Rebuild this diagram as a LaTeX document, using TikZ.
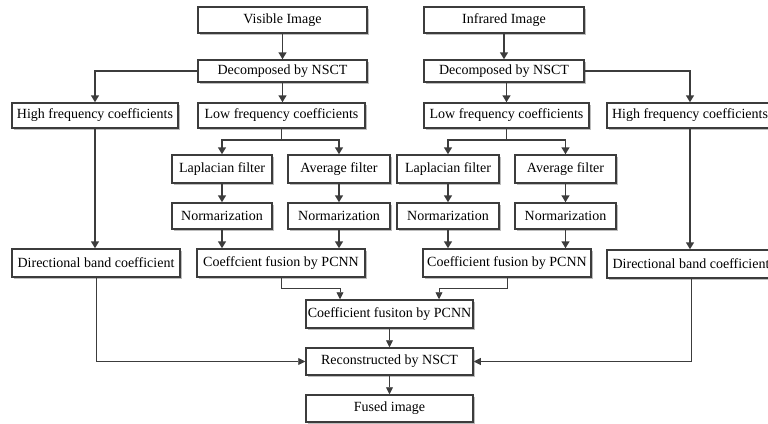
\documentclass[tikz,border=0pt]{standalone}
\usepackage{fontspec}
\setmainfont{Liberation Serif}
\usetikzlibrary{arrows.meta,shadows,calc}
\definecolor{ink}{HTML}{3C3C3C}
\definecolor{shade}{HTML}{BDBDBD}
\begin{document}
\begin{tikzpicture}[x=1pt,y=-1pt,
  box/.style={draw=ink, line width=1.5pt, fill=white, inner sep=0pt,
    font=\fontsize{14}{16}\selectfont,
    drop shadow={shadow xshift=2pt, shadow yshift=-2pt, fill=shade, opacity=1}},
  thick arr/.style={draw=ink, line width=1.5pt, -{Triangle[length=7pt,width=8pt]}},
  thin arr/.style={draw=ink, line width=0.9pt, -{Triangle[length=7pt,width=7pt]}},
  thick line/.style={draw=ink, line width=1.5pt}]
\useasboundingbox (0,0) rectangle (768,423);
\clip (0,0) rectangle (768,423);
% left branch
\node[box, minimum width=169, minimum height=26] (vis) at (282.5,20) {Visible Image};
\node[box, minimum width=169, minimum height=22] (decL) at (282.5,71) {Decomposed by NSCT};
\node[box, minimum width=166, minimum height=25] (hfL) at (95,115.5) {High frequency coefficients};
\node[box, minimum width=167, minimum height=25] (lfL) at (281.5,115.5) {Low frequency coefficients};
\node[box, minimum width=100, minimum height=28] (lapL) at (222,169) {Laplacian filter};
\node[box, minimum width=102, minimum height=28] (avgL) at (339,169) {Average filter};
\node[box, minimum width=100, minimum height=26] (norL1) at (222,216) {Normarization};
\node[box, minimum width=102, minimum height=26] (norL2) at (339,216) {Normarization};
\node[box, minimum width=168, minimum height=28] (fusL) at (281,263) {Coeffcient fusion by PCNN};
\node[box, minimum width=168, minimum height=28] (dirL) at (96,263) {Directional band coefficient};
% right branch
\node[box, minimum width=160, minimum height=26] (ir) at (504,20) {Infrared Image};
\node[box, minimum width=160, minimum height=22] (decR) at (504,71) {Decomposed by NSCT};
\node[box, minimum width=165, minimum height=25] (lfR) at (506.5,115.5) {Low frequency coefficients};
\node[box, minimum width=166, minimum height=25] (hfR) at (690,115.5) {High frequency coefficients};
\node[box, minimum width=102, minimum height=28] (lapR) at (448,169) {Laplacian filter};
\node[box, minimum width=101, minimum height=28] (avgR) at (565.5,169) {Average filter};
\node[box, minimum width=102, minimum height=26] (norR1) at (448,216) {Normarization};
\node[box, minimum width=101, minimum height=26] (norR2) at (565.5,216) {Normarization};
\node[box, minimum width=168, minimum height=28] (fusR) at (507,263) {Coefficient fusion by PCNN};
\node[box, minimum width=168, minimum height=28] (dirR) at (691,264) {Directional band coefficient};
% centre
\node[box, minimum width=167, minimum height=28] (cen) at (389.5,314) {Coefficient fusiton by PCNN};
\node[box, minimum width=167, minimum height=27] (rec) at (389.5,361.5) {Reconstructed by NSCT};
\node[box, minimum width=167, minimum height=27] (fus) at (389.5,408.5) {Fused image};
% coordinates
\coordinate (brL) at (281.5,140);
\coordinate (brR) at (506.5,140);
\coordinate (jL) at (340,288);
\coordinate (jR) at (439,288);
% left connectors
\draw[thick arr] (vis.south) -- (decL.north);
\draw[thick arr] (decL.west) -| (hfL.north);
\draw[thick arr] (decL.south) -- (decL.south |- lfL.north);
\draw[thick line] (lfL.south) -- (brL);
\draw[thick arr] (brL) -| (lapL.north);
\draw[thick arr] (brL) -| (avgL.north);
\draw[thick arr] (lapL.south) -- (norL1.north);
\draw[thick arr] (avgL.south) -- (norL2.north);
\draw[thick arr] (norL1.south) -- (norL1.south |- fusL.north);
\draw[thick arr] (norL2.south) -- (norL2.south |- fusL.north);
\draw[thick arr] (hfL.south) -- (hfL.south |- dirL.north);
% right connectors
\draw[thick arr] (ir.south) -- (decR.north);
\draw[thick arr] (decR.east) -| (hfR.north);
\draw[thick arr] (lfR.north |- decR.south) -- (lfR.north);
\draw[thick line] (lfR.south) -- (brR);
\draw[thick arr] (brR) -| (lapR.north);
\draw[thick arr] (brR) -| (avgR.north);
\draw[thick arr] (lapR.south) -- (norR1.north);
\draw[thick arr] (avgR.south) -- (norR2.north);
\draw[thick arr] (norR1.south) -- (norR1.south |- fusR.north);
\draw[thick arr] (norR2.south) -- (norR2.south |- fusR.north);
\draw[thick arr] (hfR.south) -- (hfR.south |- dirR.north);
% lower connectors
\draw[thin arr] (fusL.south) |- (jL) -- (jL |- cen.north);
\draw[thin arr] (fusR.south) |- (jR) -- (jR |- cen.north);
\draw[thin arr] (cen.south) -- (rec.north);
\draw[thin arr] (rec.south) -- (fus.north);
\draw[thin arr] (dirL.south) |- (rec.west);
\draw[thin arr] (dirR.south) |- (rec.east);
\end{tikzpicture}
\end{document}
